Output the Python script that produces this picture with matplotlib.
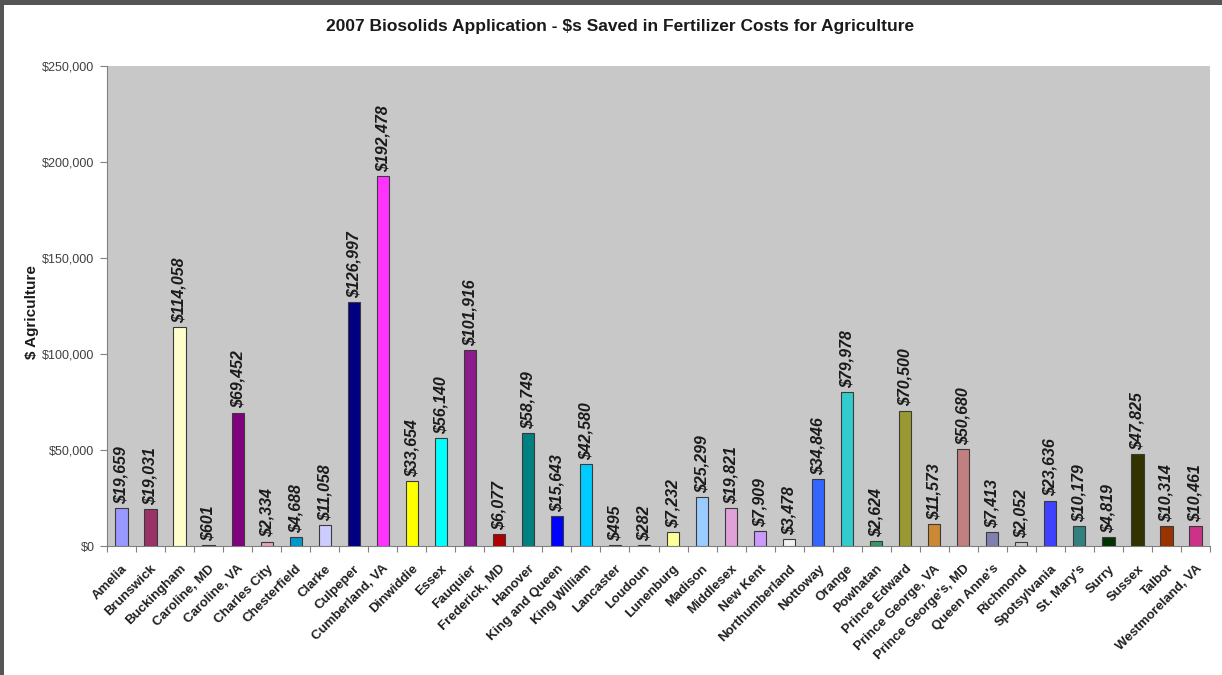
import matplotlib
matplotlib.use("Agg")
import matplotlib.pyplot as plt
from matplotlib.patches import Rectangle
from matplotlib.ticker import FuncFormatter, MultipleLocator
from matplotlib.transforms import ScaledTranslation

counties = ["Amelia", "Brunswick", "Buckingham", "Caroline, MD", "Caroline, VA",
            "Charles City", "Chesterfield", "Clarke", "Culpeper", "Cumberland, VA",
            "Dinwiddie", "Essex", "Fauquier", "Frederick, MD", "Hanover",
            "King and Queen", "King William", "Lancaster", "Loudoun", "Lunenburg",
            "Madison", "Middlesex", "New Kent", "Northumberland", "Nottoway",
            "Orange", "Powhatan", "Prince Edward", "Prince George, VA",
            "Prince George's, MD", "Queen Anne's", "Richmond", "Spotsylvania",
            "St. Mary's", "Surry", "Sussex", "Talbot", "Westmoreland, VA"]

savings = [19659, 19031, 114058, 601, 69452,
           2334, 4688, 11058, 126997, 192478,
           33654, 56140, 101916, 6077, 58749,
           15643, 42580, 495, 282, 7232,
           25299, 19821, 7909, 3478, 34846,
           79978, 2624, 70500, 11573,
           50680, 7413, 2052, 23636,
           10179, 4819, 47825, 10314, 10461]

bar_colors = ["#9999FF", "#993366", "#FFFFCC", "#333333", "#800080",
              "#E6A0C0", "#0099CC", "#CCCCFF", "#000080", "#FF33FF",
              "#FFFF00", "#00FFFF", "#8B1A8B", "#B00000", "#008080",
              "#0000FF", "#00CCFF", "#333333", "#666666", "#FFFF99",
              "#99CCFF", "#E0A0D8", "#CC99FF", "#F2F2F2", "#3366FF",
              "#33CCCC", "#339966", "#999933", "#CC8833",
              "#C08080", "#8080B0", "#C8C8C8", "#4040FF",
              "#338080", "#003300", "#333300", "#993300", "#CC3388"]

title = "2007 Biosolids Application - $s Saved in Fertilizer Costs for Agriculture"
ylabel = "$ Agriculture"

W, H = 1222, 675
fig = plt.figure(figsize=(W / 100, H / 100), dpi=100)
fig.patch.set_facecolor("white")

left, right, top, bottom = 107, 1210, 66, 546
ax = fig.add_axes([left / W, 1 - bottom / H, (right - left) / W, (bottom - top) / H])
ax.set_facecolor("#C8C8C8")

x = list(range(len(counties)))
ax.bar(x, savings, width=0.42, color=bar_colors, edgecolor="#3a3a3a", linewidth=0.8, zorder=3)

for xi, v in zip(x, savings):
    ax.annotate(f"${v:,}", (xi, v), xytext=(0, 3), textcoords="offset points",
                rotation=90, ha="center", va="bottom", fontsize=11.5,
                fontweight="bold", fontstyle="italic", family="Liberation Sans",
                color="#1a1a1a", zorder=4)

ax.set_xlim(-0.5, len(counties) - 0.5)
ax.set_ylim(0, 250000)
ax.yaxis.set_major_locator(MultipleLocator(50000))
ax.yaxis.set_major_formatter(FuncFormatter(lambda v, p: f"${int(v):,}"))

ax.set_xticks([i - 0.5 for i in range(len(counties) + 1)], minor=False)
ax.set_xticklabels([])
ax.set_xticks(x, minor=True)
ax.set_xticklabels(counties, minor=True, rotation=45, ha="right", va="top",
                   rotation_mode="anchor", fontsize=9.5, fontweight="bold",
                   family="Liberation Sans", color="#202020")
shift = ScaledTranslation(-12 / 100, 0, fig.dpi_scale_trans)
for lab in ax.get_xticklabels(minor=True):
    lab.set_transform(lab.get_transform() + shift)
ax.tick_params(axis="x", which="minor", length=0, pad=12)
ax.tick_params(axis="x", which="major", length=4, direction="out", color="#808080")
ax.tick_params(axis="y", length=5, direction="out", color="#808080", labelsize=9,
               labelcolor="#404040", pad=4)
for lab in ax.get_yticklabels():
    lab.set_family("Liberation Sans")

for s in ["top", "right"]:
    ax.spines[s].set_visible(False)
ax.spines["left"].set_color("#808080")
ax.spines["bottom"].set_color("#808080")

fig.text(32 / W, 1 - 312 / H, ylabel, rotation=90, ha="center", va="center",
         fontsize=11, fontweight="bold", family="Liberation Sans", color="#1a1a1a")

fig.text(620 / W, 1 - 27 / H, title, ha="center", va="center", fontsize=12.5,
         fontweight="bold", family="Liberation Sans", color="#1a1a1a")

# outer frame (dark border at top and left)
fig.add_artist(Rectangle((0, 1 - 5 / H), 1, 5 / H, transform=fig.transFigure,
                         facecolor="#555555", edgecolor="none"))
fig.add_artist(Rectangle((0, 0), 4 / W, 1, transform=fig.transFigure,
                         facecolor="#555555", edgecolor="none"))

fig.savefig("out.png", dpi=100, facecolor="white")
